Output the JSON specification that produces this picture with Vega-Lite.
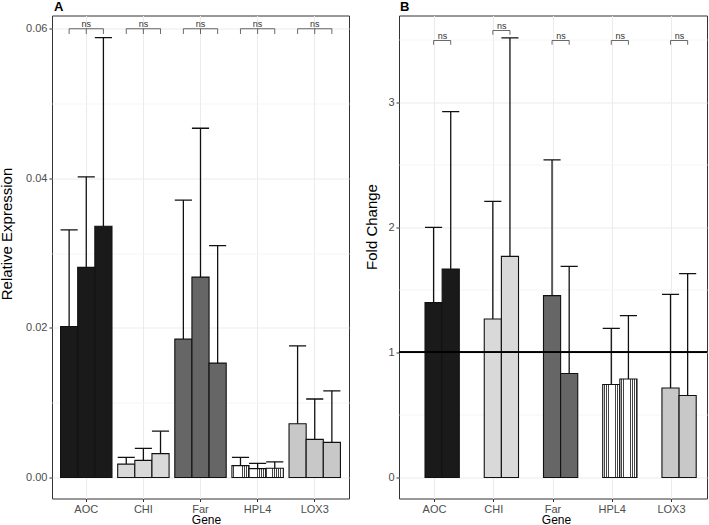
{
  "$schema": "https://vega.github.io/schema/vega-lite/v6.json",
  "background": "white",
  "padding": {"left": -2, "top": -0.5, "right": 0, "bottom": 0},
  "bounds": "flush",
  "spacing": 50,
  "config": {
    "font": "Liberation Sans",
    "view": {"stroke": "#333333", "strokeWidth": 1},
    "axis": {"domain": false, "labelColor": "#4d4d4d", "labelFontSize": 11, "tickColor": "#333333", "tickSize": 3, "labelPadding": 1.5, "gridColor": "#ebebeb", "titleColor": "#000000", "titleFontWeight": "normal"}
  },
  "datasets": {
    "expr": [
      {"Gene": "AOC", "grp": "Control", "val": 0.0202, "upper": 0.0331},
      {"Gene": "AOC", "grp": "T1", "val": 0.0281, "upper": 0.0402},
      {"Gene": "AOC", "grp": "T2", "val": 0.0336, "upper": 0.0588},
      {"Gene": "CHI", "grp": "Control", "val": 0.0018, "upper": 0.0027},
      {"Gene": "CHI", "grp": "T1", "val": 0.0023, "upper": 0.0039},
      {"Gene": "CHI", "grp": "T2", "val": 0.0032, "upper": 0.0062},
      {"Gene": "Far", "grp": "Control", "val": 0.0185, "upper": 0.0371},
      {"Gene": "Far", "grp": "T1", "val": 0.0268, "upper": 0.0467},
      {"Gene": "Far", "grp": "T2", "val": 0.0153, "upper": 0.031},
      {"Gene": "HPL4", "grp": "Control", "val": 0.0016, "upper": 0.0027},
      {"Gene": "HPL4", "grp": "T1", "val": 0.0012, "upper": 0.0019},
      {"Gene": "HPL4", "grp": "T2", "val": 0.00125, "upper": 0.0021},
      {"Gene": "LOX3", "grp": "Control", "val": 0.0072, "upper": 0.0176},
      {"Gene": "LOX3", "grp": "T1", "val": 0.0051, "upper": 0.0105},
      {"Gene": "LOX3", "grp": "T2", "val": 0.0047, "upper": 0.0116}
    ],
    "fold": [
      {"Gene": "AOC", "grp": "T1", "val": 1.398, "upper": 2.0},
      {"Gene": "AOC", "grp": "T2", "val": 1.667, "upper": 2.926},
      {"Gene": "CHI", "grp": "T1", "val": 1.267, "upper": 2.208},
      {"Gene": "CHI", "grp": "T2", "val": 1.768, "upper": 3.515},
      {"Gene": "Far", "grp": "T1", "val": 1.454, "upper": 2.539},
      {"Gene": "Far", "grp": "T2", "val": 0.832, "upper": 1.688},
      {"Gene": "HPL4", "grp": "T1", "val": 0.744, "upper": 1.192},
      {"Gene": "HPL4", "grp": "T2", "val": 0.787, "upper": 1.294},
      {"Gene": "LOX3", "grp": "T1", "val": 0.715, "upper": 1.464},
      {"Gene": "LOX3", "grp": "T2", "val": 0.656, "upper": 1.63}
    ],
    "bracketA": [
      {"Gene": "AOC", "grp": "Control", "y": 0.0593, "seg": "AOC1", "o": 0},
      {"Gene": "AOC", "grp": "Control", "y": 0.06, "seg": "AOC1", "o": 1},
      {"Gene": "AOC", "grp": "T2", "y": 0.06, "seg": "AOC1", "o": 2},
      {"Gene": "AOC", "grp": "T2", "y": 0.0593, "seg": "AOC1", "o": 3},
      {"Gene": "AOC", "grp": "T1", "y": 0.06, "seg": "AOC2", "o": 0},
      {"Gene": "AOC", "grp": "T1", "y": 0.0593, "seg": "AOC2", "o": 1},
      {"Gene": "CHI", "grp": "Control", "y": 0.0593, "seg": "CHI1", "o": 0},
      {"Gene": "CHI", "grp": "Control", "y": 0.06, "seg": "CHI1", "o": 1},
      {"Gene": "CHI", "grp": "T2", "y": 0.06, "seg": "CHI1", "o": 2},
      {"Gene": "CHI", "grp": "T2", "y": 0.0593, "seg": "CHI1", "o": 3},
      {"Gene": "CHI", "grp": "T1", "y": 0.06, "seg": "CHI2", "o": 0},
      {"Gene": "CHI", "grp": "T1", "y": 0.0593, "seg": "CHI2", "o": 1},
      {"Gene": "Far", "grp": "Control", "y": 0.0593, "seg": "Far1", "o": 0},
      {"Gene": "Far", "grp": "Control", "y": 0.06, "seg": "Far1", "o": 1},
      {"Gene": "Far", "grp": "T2", "y": 0.06, "seg": "Far1", "o": 2},
      {"Gene": "Far", "grp": "T2", "y": 0.0593, "seg": "Far1", "o": 3},
      {"Gene": "Far", "grp": "T1", "y": 0.06, "seg": "Far2", "o": 0},
      {"Gene": "Far", "grp": "T1", "y": 0.0593, "seg": "Far2", "o": 1},
      {"Gene": "HPL4", "grp": "Control", "y": 0.0593, "seg": "HPL41", "o": 0},
      {"Gene": "HPL4", "grp": "Control", "y": 0.06, "seg": "HPL41", "o": 1},
      {"Gene": "HPL4", "grp": "T2", "y": 0.06, "seg": "HPL41", "o": 2},
      {"Gene": "HPL4", "grp": "T2", "y": 0.0593, "seg": "HPL41", "o": 3},
      {"Gene": "HPL4", "grp": "T1", "y": 0.06, "seg": "HPL42", "o": 0},
      {"Gene": "HPL4", "grp": "T1", "y": 0.0593, "seg": "HPL42", "o": 1},
      {"Gene": "LOX3", "grp": "Control", "y": 0.0593, "seg": "LOX31", "o": 0},
      {"Gene": "LOX3", "grp": "Control", "y": 0.06, "seg": "LOX31", "o": 1},
      {"Gene": "LOX3", "grp": "T2", "y": 0.06, "seg": "LOX31", "o": 2},
      {"Gene": "LOX3", "grp": "T2", "y": 0.0593, "seg": "LOX31", "o": 3},
      {"Gene": "LOX3", "grp": "T1", "y": 0.06, "seg": "LOX32", "o": 0},
      {"Gene": "LOX3", "grp": "T1", "y": 0.0593, "seg": "LOX32", "o": 1}
    ],
    "bracketB": [
      {"Gene": "AOC", "grp": "T1", "y": 3.46, "seg": "AOC", "o": 0},
      {"Gene": "AOC", "grp": "T1", "y": 3.494, "seg": "AOC", "o": 1},
      {"Gene": "AOC", "grp": "T2", "y": 3.494, "seg": "AOC", "o": 2},
      {"Gene": "AOC", "grp": "T2", "y": 3.46, "seg": "AOC", "o": 3},
      {"Gene": "CHI", "grp": "T1", "y": 3.54, "seg": "CHI", "o": 0},
      {"Gene": "CHI", "grp": "T1", "y": 3.574, "seg": "CHI", "o": 1},
      {"Gene": "CHI", "grp": "T2", "y": 3.574, "seg": "CHI", "o": 2},
      {"Gene": "CHI", "grp": "T2", "y": 3.54, "seg": "CHI", "o": 3},
      {"Gene": "Far", "grp": "T1", "y": 3.46, "seg": "Far", "o": 0},
      {"Gene": "Far", "grp": "T1", "y": 3.494, "seg": "Far", "o": 1},
      {"Gene": "Far", "grp": "T2", "y": 3.494, "seg": "Far", "o": 2},
      {"Gene": "Far", "grp": "T2", "y": 3.46, "seg": "Far", "o": 3},
      {"Gene": "HPL4", "grp": "T1", "y": 3.46, "seg": "HPL4", "o": 0},
      {"Gene": "HPL4", "grp": "T1", "y": 3.494, "seg": "HPL4", "o": 1},
      {"Gene": "HPL4", "grp": "T2", "y": 3.494, "seg": "HPL4", "o": 2},
      {"Gene": "HPL4", "grp": "T2", "y": 3.46, "seg": "HPL4", "o": 3},
      {"Gene": "LOX3", "grp": "T1", "y": 3.46, "seg": "LOX3", "o": 0},
      {"Gene": "LOX3", "grp": "T1", "y": 3.494, "seg": "LOX3", "o": 1},
      {"Gene": "LOX3", "grp": "T2", "y": 3.494, "seg": "LOX3", "o": 2},
      {"Gene": "LOX3", "grp": "T2", "y": 3.46, "seg": "LOX3", "o": 3}
    ],
    "nsA": [
      {"Gene": "AOC", "grp": "T1", "y": 0.06, "label": "ns"},
      {"Gene": "CHI", "grp": "T1", "y": 0.06, "label": "ns"},
      {"Gene": "Far", "grp": "T1", "y": 0.06, "label": "ns"},
      {"Gene": "HPL4", "grp": "T1", "y": 0.06, "label": "ns"},
      {"Gene": "LOX3", "grp": "T1", "y": 0.06, "label": "ns"}
    ],
    "nsB": [
      {"Gene": "AOC", "grp": "T1", "y": 3.494, "label": "ns"},
      {"Gene": "CHI", "grp": "T1", "y": 3.574, "label": "ns"},
      {"Gene": "Far", "grp": "T1", "y": 3.494, "label": "ns"},
      {"Gene": "HPL4", "grp": "T1", "y": 3.494, "label": "ns"},
      {"Gene": "LOX3", "grp": "T1", "y": 3.494, "label": "ns"}
    ]
  },
  "hconcat": [
    {
      "width": 297,
      "height": 483,
      "title": {"text": "A", "anchor": "start", "frame": "group", "fontSize": 13, "fontWeight": "bold", "offset": 2, "dx": 2, "color": "#000000"},
      "encoding": {
        "x": {"field": "Gene", "type": "nominal", "sort": ["AOC", "CHI", "Far", "HPL4", "LOX3"], "scale": {"type": "band", "paddingInner": 0.1, "paddingOuter": 0.15},
              "axis": {"title": "Gene", "labelAngle": 0, "bandPosition": 0.5, "grid": true, "titleX": 154, "titlePadding": 0, "titleFontSize": 12}},
        "xOffset": {"field": "grp", "type": "nominal", "sort": ["Control", "T1", "T2"], "scale": {"type": "band", "paddingInner": 0, "paddingOuter": 0}},
        "y": {"field": "val", "type": "quantitative", "scale": {"domain": [-0.0028, 0.06177], "nice": false, "zero": false},
              "axis": {"title": "Relative Expression", "values": [0, 0.01, 0.02, 0.03, 0.04, 0.05, 0.06],
                       "labelExpr": "abs(datum.value*100 - round(datum.value*50)*2) > 0.5 ? '' : format(datum.value, '.2f')",
                       "grid": true,
                       "gridColor": {"condition": {"test": "abs(datum.value*100 - round(datum.value*50)*2) > 0.5", "value": "#f5f5f5"}, "value": "#ebebeb"},
                       "tickOpacity": {"condition": {"test": "abs(datum.value*100 - round(datum.value*50)*2) > 0.5", "value": 0}, "value": 1},
                       "labelPadding": 2,
                       "titleX": -41, "titleY": 218, "titleAngle": 270, "titleAlign": "center", "titleBaseline": "alphabetic", "titleFontSize": 15}}
      },
      "layer": [
        {
          "data": {"name": "expr"},
          "mark": {"type": "bar", "stroke": "#111111", "strokeWidth": 1.1},
          "encoding": {
            "y2": {"datum": 0},
            "fill": {
              "condition": {"test": "datum.Gene === 'HPL4'", "value": {"gradient": "linear", "x1": 0, "y1": 0, "x2": 1, "y2": 0, "stops": [
                {"offset": 0, "color": "#ffffff"}, {"offset": 0.085, "color": "#ffffff"}, {"offset": 0.085, "color": "#444444"}, {"offset": 0.125, "color": "#444444"},
                {"offset": 0.125, "color": "#ffffff"}, {"offset": 0.21, "color": "#ffffff"}, {"offset": 0.21, "color": "#444444"}, {"offset": 0.25, "color": "#444444"},
                {"offset": 0.25, "color": "#ffffff"}, {"offset": 0.335, "color": "#ffffff"}, {"offset": 0.335, "color": "#444444"}, {"offset": 0.375, "color": "#444444"},
                {"offset": 0.375, "color": "#ffffff"}, {"offset": 0.46, "color": "#ffffff"}, {"offset": 0.46, "color": "#444444"}, {"offset": 0.5, "color": "#444444"},
                {"offset": 0.5, "color": "#ffffff"}, {"offset": 0.585, "color": "#ffffff"}, {"offset": 0.585, "color": "#444444"}, {"offset": 0.625, "color": "#444444"},
                {"offset": 0.625, "color": "#ffffff"}, {"offset": 0.71, "color": "#ffffff"}, {"offset": 0.71, "color": "#444444"}, {"offset": 0.75, "color": "#444444"},
                {"offset": 0.75, "color": "#ffffff"}, {"offset": 0.835, "color": "#ffffff"}, {"offset": 0.835, "color": "#444444"}, {"offset": 0.875, "color": "#444444"},
                {"offset": 0.875, "color": "#ffffff"}, {"offset": 0.96, "color": "#ffffff"}, {"offset": 0.96, "color": "#444444"}, {"offset": 1, "color": "#444444"}]}},
              "field": "Gene", "type": "nominal",
              "scale": {"domain": ["AOC", "CHI", "Far", "HPL4", "LOX3"], "range": ["#1a1a1a", "#d9d9d9", "#666666", "#ffffff", "#c8c8c8"]},
              "legend": null
            }
          }
        },
        {
          "data": {"name": "expr"},
          "mark": {"type": "rule", "color": "#111111", "strokeWidth": 1.3},
          "encoding": {"y2": {"field": "upper"}}
        },
        {
          "data": {"name": "expr"},
          "mark": {"type": "bar", "fill": null, "fillOpacity": 0, "stroke": "#111111", "strokeWidth": 1.3},
          "encoding": {
            "y": {"field": "upper", "type": "quantitative"},
            "y2": {"field": "upper"}
          }
        },
        {
          "data": {"name": "bracketA"},
          "mark": {"type": "line", "color": "#444444", "strokeWidth": 0.8},
          "encoding": {
            "y": {"field": "y", "type": "quantitative"},
            "detail": {"field": "seg"},
            "order": {"field": "o"}
          }
        },
        {
          "data": {"name": "nsA"},
          "mark": {"type": "text", "fontSize": 9, "color": "#333333", "baseline": "alphabetic", "dy": -1.6},
          "encoding": {
            "y": {"field": "y", "type": "quantitative"},
            "text": {"field": "label"}
          }
        }
      ]
    },
    {
      "width": 308,
      "height": 483,
      "title": {"text": "B", "anchor": "start", "frame": "group", "fontSize": 13, "fontWeight": "bold", "offset": 2, "dx": 1, "color": "#000000"},
      "encoding": {
        "x": {"field": "Gene", "type": "nominal", "sort": ["AOC", "CHI", "Far", "HPL4", "LOX3"], "scale": {"type": "band", "paddingInner": 0.1, "paddingOuter": 0.15},
              "axis": {"title": "Gene", "labelAngle": 0, "bandPosition": 0.5, "grid": true, "titleX": 157, "titlePadding": 0, "titleFontSize": 12}},
        "xOffset": {"field": "grp", "type": "nominal", "sort": ["T1", "T2"], "scale": {"type": "band", "paddingInner": 0, "paddingOuter": 0.5, "align": 0.73}},
        "y": {"field": "val", "type": "quantitative", "scale": {"domain": [-0.168, 3.694], "nice": false, "zero": false},
              "axis": {"title": "Fold Change", "values": [0, 0.5, 1, 1.5, 2, 2.5, 3, 3.5],
                       "labelExpr": "datum.value % 1 !== 0 ? '' : format(datum.value, 'd')",
                       "grid": true,
                       "gridColor": {"condition": {"test": "datum.value % 1 !== 0", "value": "#f5f5f5"}, "value": "#ebebeb"},
                       "tickOpacity": {"condition": {"test": "datum.value % 1 !== 0", "value": 0}, "value": 1},
                       "labelPadding": 2,
                       "titleX": -23, "titleY": 211, "titleAngle": 270, "titleAlign": "center", "titleBaseline": "alphabetic", "titleFontSize": 15}}
      },
      "layer": [
        {
          "data": {"name": "fold"},
          "mark": {"type": "bar", "stroke": "#111111", "strokeWidth": 1.1},
          "encoding": {
            "y2": {"datum": 0},
            "fill": {
              "condition": {"test": "datum.Gene === 'HPL4'", "value": {"gradient": "linear", "x1": 0, "y1": 0, "x2": 1, "y2": 0, "stops": [
                {"offset": 0, "color": "#ffffff"}, {"offset": 0.085, "color": "#ffffff"}, {"offset": 0.085, "color": "#444444"}, {"offset": 0.125, "color": "#444444"},
                {"offset": 0.125, "color": "#ffffff"}, {"offset": 0.21, "color": "#ffffff"}, {"offset": 0.21, "color": "#444444"}, {"offset": 0.25, "color": "#444444"},
                {"offset": 0.25, "color": "#ffffff"}, {"offset": 0.335, "color": "#ffffff"}, {"offset": 0.335, "color": "#444444"}, {"offset": 0.375, "color": "#444444"},
                {"offset": 0.375, "color": "#ffffff"}, {"offset": 0.46, "color": "#ffffff"}, {"offset": 0.46, "color": "#444444"}, {"offset": 0.5, "color": "#444444"},
                {"offset": 0.5, "color": "#ffffff"}, {"offset": 0.585, "color": "#ffffff"}, {"offset": 0.585, "color": "#444444"}, {"offset": 0.625, "color": "#444444"},
                {"offset": 0.625, "color": "#ffffff"}, {"offset": 0.71, "color": "#ffffff"}, {"offset": 0.71, "color": "#444444"}, {"offset": 0.75, "color": "#444444"},
                {"offset": 0.75, "color": "#ffffff"}, {"offset": 0.835, "color": "#ffffff"}, {"offset": 0.835, "color": "#444444"}, {"offset": 0.875, "color": "#444444"},
                {"offset": 0.875, "color": "#ffffff"}, {"offset": 0.96, "color": "#ffffff"}, {"offset": 0.96, "color": "#444444"}, {"offset": 1, "color": "#444444"}]}},
              "field": "Gene", "type": "nominal",
              "scale": {"domain": ["AOC", "CHI", "Far", "HPL4", "LOX3"], "range": ["#1a1a1a", "#d9d9d9", "#666666", "#ffffff", "#c8c8c8"]},
              "legend": null
            }
          }
        },
        {
          "data": {"name": "fold"},
          "mark": {"type": "rule", "color": "#111111", "strokeWidth": 1.3},
          "encoding": {"y2": {"field": "upper"}}
        },
        {
          "data": {"name": "fold"},
          "mark": {"type": "bar", "fill": null, "fillOpacity": 0, "stroke": "#111111", "strokeWidth": 1.3},
          "encoding": {
            "y": {"field": "upper", "type": "quantitative"},
            "y2": {"field": "upper"}
          }
        },
        {
          "data": {"name": "bracketB"},
          "mark": {"type": "line", "color": "#444444", "strokeWidth": 0.8},
          "encoding": {
            "y": {"field": "y", "type": "quantitative"},
            "detail": {"field": "seg"},
            "order": {"field": "o"}
          }
        },
        {
          "data": {"name": "nsB"},
          "mark": {"type": "text", "fontSize": 9, "color": "#333333", "baseline": "alphabetic", "dy": -1.6, "dx": 8.9},
          "encoding": {
            "y": {"field": "y", "type": "quantitative"},
            "text": {"field": "label"}
          }
        },
        {
          "data": {"name": "fold"},
          "mark": {"type": "rule", "color": "#000000", "strokeWidth": 1.2},
          "encoding": {
            "x": {"value": 0},
            "x2": {"value": 308},
            "xOffset": {"value": 0},
            "y": {"datum": 1, "type": "quantitative"}
          }
        }
      ]
    }
  ]
}
